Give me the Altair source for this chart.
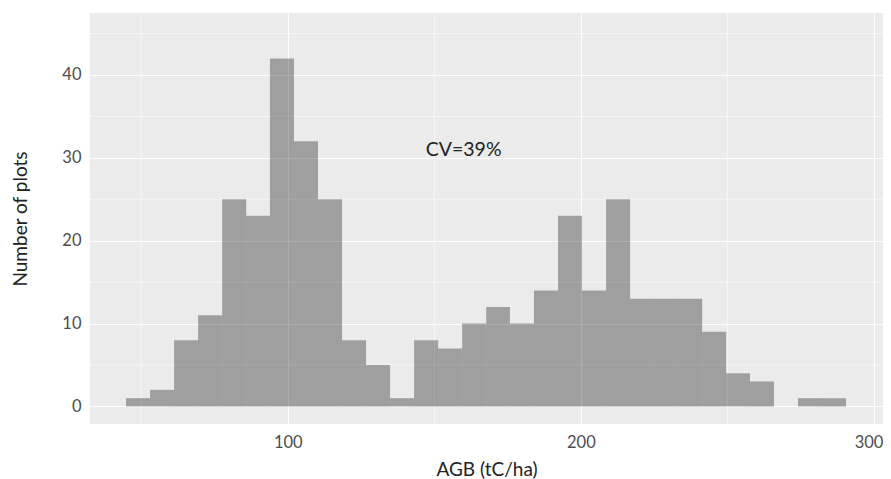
import altair as alt
import pandas as pd

# Histogram bin edges (AGB, tC/ha) and counts
bin_start = [44.8, 53.0, 61.2, 69.4, 77.6, 85.8, 93.9, 102.1, 110.3, 118.5,
             126.7, 134.9, 143.1, 151.3, 159.5, 167.7, 175.8, 184.0, 192.2, 200.4,
             208.6, 216.8, 225.0, 233.2, 241.4, 249.6, 257.7, 265.9, 274.1, 282.3]
bin_end = [53.0, 61.2, 69.4, 77.6, 85.8, 93.9, 102.1, 110.3, 118.5, 126.7,
           134.9, 143.1, 151.3, 159.5, 167.7, 175.8, 184.0, 192.2, 200.4, 208.6,
           216.8, 225.0, 233.2, 241.4, 249.6, 257.7, 265.9, 274.1, 282.3, 290.5]
counts = [1, 2, 8, 11, 25, 23, 42, 32, 25, 8,
          5, 1, 8, 7, 10, 12, 10, 14, 23, 14,
          25, 13, 13, 13, 9, 4, 3, 0, 1, 1]

x_ticks = [100, 200, 300]
x_minor = [50, 150, 250]
y_ticks = [0, 10, 20, 30, 40]
y_minor = [5, 15, 25, 35, 45]

annot_x = [160]
annot_y = [31]
annot_text = ["CV=39%"]

FONT = "Lato"

bars_df = pd.DataFrame({"start": bin_start, "end": bin_end, "count": counts})
xminor_df = pd.DataFrame({"v": x_minor})
yminor_df = pd.DataFrame({"v": y_minor})
annot_df = pd.DataFrame({"x": annot_x, "y": annot_y, "label": annot_text})

x_scale = alt.Scale(domain=[32.5, 303.1], nice=False, zero=False)
y_scale = alt.Scale(domain=[-2.12, 47.48], nice=False, zero=False)

x_axis = alt.Axis(
    values=x_ticks, title="AGB (tC/ha)", grid=True, ticks=False,
    domain=False, labelPadding=10, titlePadding=10,
    labelAlign={"condition": {"test": "datum.value >= 300", "value": "right"}, "value": "center"},
    labelOffset={"condition": {"test": "datum.value >= 300", "value": 9}, "value": 0},
)
y_axis = alt.Axis(values=y_ticks, title="Number of plots", grid=True, ticks=False,
                  domain=False, labelPadding=9, titlePadding=31)

xminor = alt.Chart(xminor_df).mark_rule(color="white", strokeWidth=0.55).encode(
    x=alt.X("v:Q", scale=x_scale, axis=x_axis)
)
yminor = alt.Chart(yminor_df).mark_rule(color="white", strokeWidth=0.55).encode(
    y=alt.Y("v:Q", scale=y_scale, axis=y_axis)
)

bars = alt.Chart(bars_df).mark_rect(color="black", opacity=0.32).encode(
    x=alt.X("start:Q", scale=x_scale, axis=x_axis),
    x2="end:Q",
    y=alt.Y("count:Q", scale=y_scale, axis=y_axis),
    y2=alt.datum(0),
)

annot = alt.Chart(annot_df).mark_text(font=FONT, fontSize=19.5, color="#222222",
                                      align="center", baseline="middle").encode(
    x=alt.X("x:Q", scale=x_scale),
    y=alt.Y("y:Q", scale=y_scale),
    text="label:N",
)

chart = alt.layer(xminor, yminor, bars, annot).properties(
    width=793,
    height=411,
    autosize=alt.AutoSizeParams(type="none"),
    padding={"left": 82, "top": 5, "right": 0, "bottom": 57},
).configure_view(
    fill="#ebebeb", stroke=None
).configure_axis(
    gridColor="white", gridWidth=1.1, gridOpacity=1,
    labelFont=FONT, labelFontSize=16.5, labelColor="#4d4d4d",
    titleFont=FONT, titleFontSize=19, titleColor="#222222", titleFontWeight="normal",
)

chart.save("out.html", embed_options={"renderer": "svg", "actions": False})
